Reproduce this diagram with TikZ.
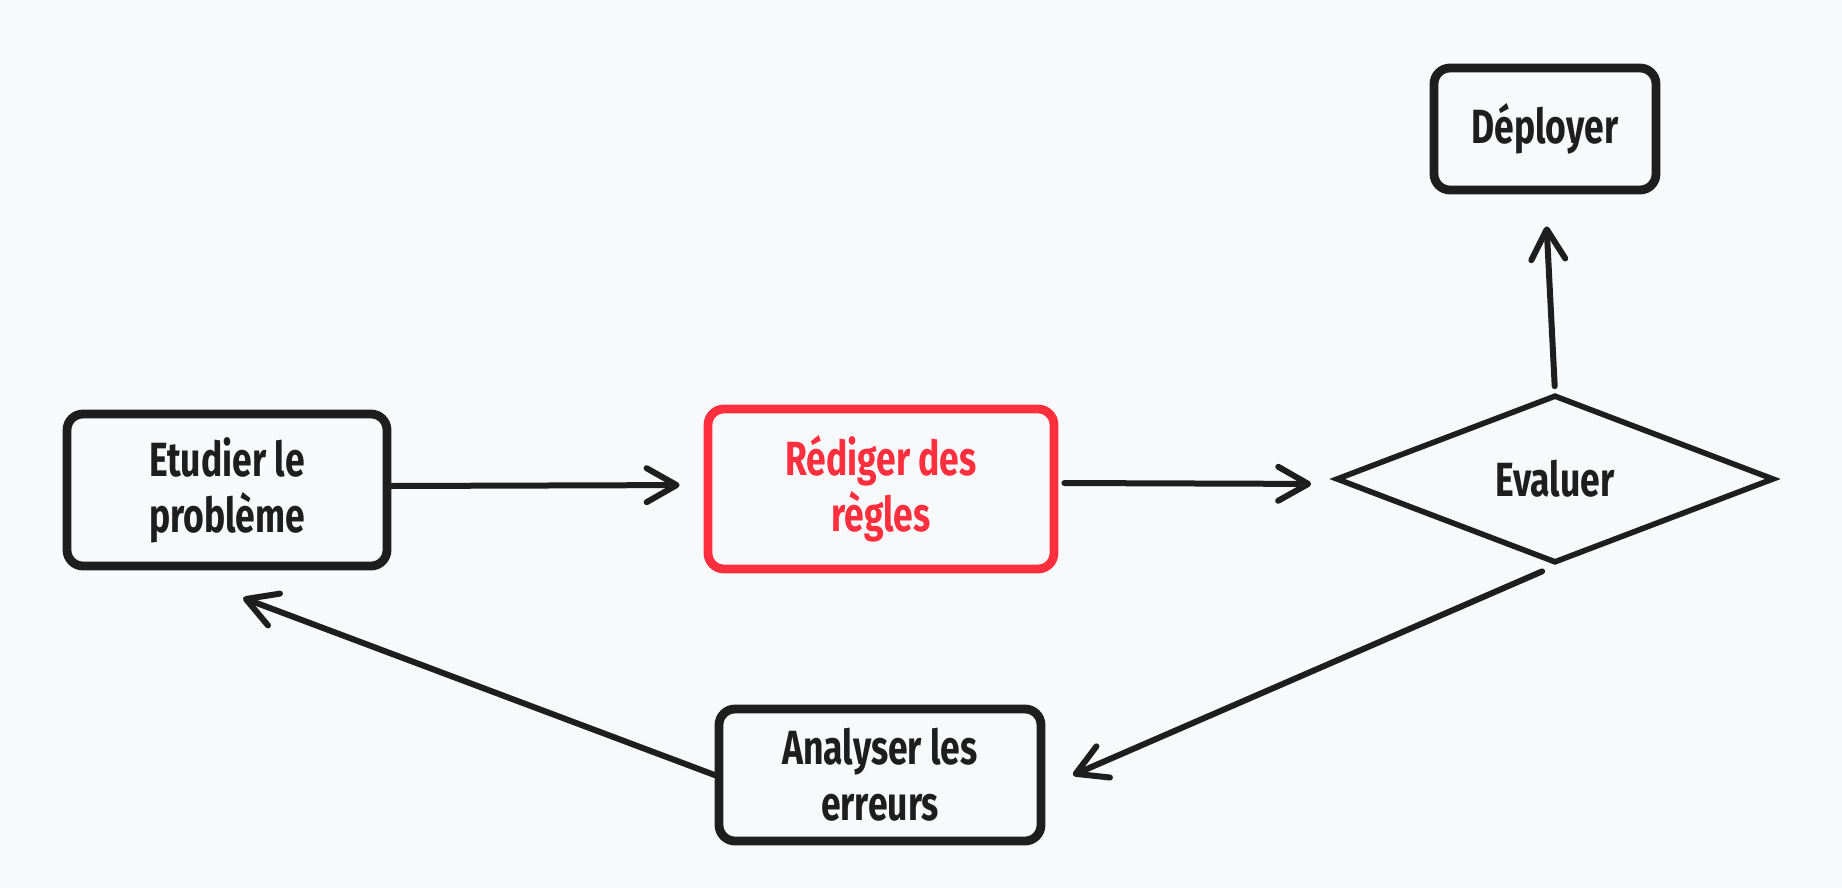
\documentclass[tikz,border=0pt]{standalone}
\usepackage{fontspec}
\usetikzlibrary{arrows.meta,shapes.geometric,calc}
\newfontfamily\hand{Fira Sans}[FakeStretch=0.74]
\definecolor{bg}{HTML}{F8F9FA}
\definecolor{ink}{HTML}{1E1E1E}
\definecolor{redink}{HTML}{FF2F3D}
\begin{document}
\begin{tikzpicture}[x=0.5pt,y=-0.5pt,
  boxstyle/.style={draw=ink,line width=4.4pt,rounded corners=8pt,align=center,
    text=ink,font=\hand\bfseries\fontsize{24}{28}\selectfont,inner sep=0pt},
  diastyle/.style={diamond,draw=ink,line width=2.8pt,align=center,inner sep=0pt,
    text=ink,font=\hand\bfseries\fontsize{24}{28}\selectfont},
  conn/.style={draw=ink,line width=3pt,line cap=round,
    -{Straight Barb[length=15pt,width=17pt,line width=3pt,round]}}]
\fill[bg] (0,0) rectangle (1842,888);
\useasboundingbox (0,0) rectangle (1842,888);
\node[boxstyle,minimum width=160pt,minimum height=76pt] (etu) at (227,490) {Etudier le\\probl\`eme};
\node[boxstyle,draw=redink,text=redink,minimum width=173pt,minimum height=80pt] (red) at (881,489) {R\'ediger des\\r\`egles};
\node[diastyle,minimum width=219pt,minimum height=84pt] (eva) at (1555,479) {Evaluer};
\node[boxstyle,minimum width=111pt,minimum height=61pt] (dep) at (1545,129) {D\'eployer};
\node[boxstyle,minimum width=161pt,minimum height=66pt] (ana) at (880,775) {Analyser les\\erreurs};
\draw[conn,shorten >=12pt] ($(etu.east)+(0,-4)$) -- ($(red.west)+(0,-4)$);
\draw[conn,shorten <=3pt,shorten >=11pt] ($(red.east)+(0,-6)$) -- ($(eva.west)+(0,5)$);
\draw[conn,shorten <=3pt,shorten >=16pt] (eva.north) -- (dep.south);
\draw[conn,shorten <=7pt,shorten >=15pt] (eva.south) -- ($(ana.east)+(0,12)$);
\draw[conn,shorten >=15pt] (ana.west) -- ($(etu.south)+(-12,17)$);
\end{tikzpicture}
\end{document}
